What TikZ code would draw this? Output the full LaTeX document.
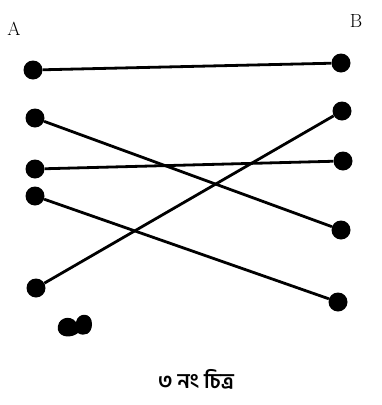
\documentclass[tikz,border=0pt]{standalone}
\usepackage{fontspec}
\newfontfamily\bnfont[Script=Bengali]{Hind Siliguri}
\begin{document}
\begin{tikzpicture}[x=1pt,y=-1pt,
  dot/.style={circle,fill=black,inner sep=0pt,minimum size=19pt},
  link/.style={line width=2.8pt,black},
  lbl/.style={font=\fontsize{19}{20}\selectfont,inner sep=0pt}]
\useasboundingbox (0,0) rectangle (381,405);
\node[dot] (l1) at (33,70) {};
\node[dot] (l2) at (35,118) {};
\node[dot] (l3) at (35,169) {};
\node[dot] (l4) at (35,196) {};
\node[dot] (l5) at (36,288) {};
\node[dot] (r1) at (341,63) {};
\node[dot] (r2) at (342,111) {};
\node[dot] (r3) at (343,161) {};
\node[dot] (r4) at (341,230) {};
\node[dot] (r5) at (338,302) {};
\draw[link] (l1) -- (r1);
\draw[link] (l2) -- (r4);
\draw[link] (l3) -- (r3);
\draw[link] (l4) -- (r5);
\draw[link] (l5) -- (r2);
\node[lbl] (la) at (14,29) {A};
\node[lbl] (lb) at (356,21) {B};
\fill[black] (58,330) .. controls (56,318) and (70,314) .. (76,322)
  .. controls (78,312) and (92,312) .. (92,324)
  .. controls (92,334) and (84,337) .. (78,333)
  .. controls (72,338) and (60,338) .. (58,330) -- cycle;
\node[font=\bnfont\bfseries\fontsize{21}{22}\selectfont,inner sep=0pt] (cap) at (196,379) {৩ নং চিত্র};
\end{tikzpicture}
\end{document}
